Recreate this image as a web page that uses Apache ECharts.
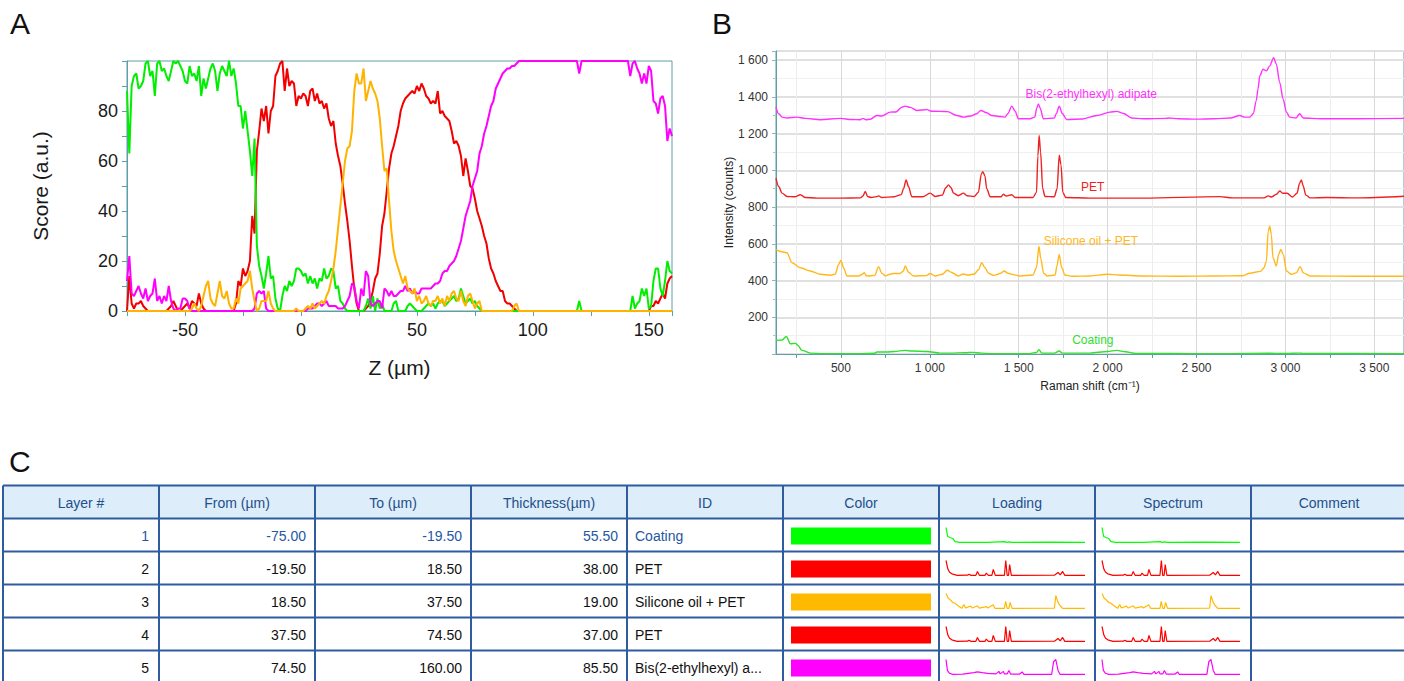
<!DOCTYPE html>
<html>
<head>
<meta charset="utf-8">
<script src="https://cdn.jsdelivr.net/npm/echarts@6.0.0/dist/echarts.min.js"></script>
<style>
html,body{margin:0;padding:0;background:#fff;}
#c{width:1404px;height:681px;}
</style>
</head>
<body>
<div id="c"></div>
<script>
// ---------------- DATA ----------------
// Panel A: depth profile, Z from -75 to 160 µm, step 1 µm
const zStart = -75, zStep = 1;
const scoreCoating = [
88,63,90,94,95,89,90,92,99,100,
94,96,86,99,100,96,97,94,92,96,
100,99,100,98,96,92,91,98,94,95,
92,98,86,93,89,93,97,99,96,88,
95,98,96,94,100,94,97,91,82,82,
73,80,72,64,54,69,26,18,14,9,
15,22,13,14,5,1,0,6,10,8,
12,10,12,17,17,16,14,15,11,14,
11,13,9,13,12,17,13,14,17,16,
9,10,4,3,1,0,0,0,0,0,
0,0,0,2,5,1,6,0,5,1,
3,0,0,0,0,3,4,0,0,0,
0,2,3,2,1,0,0,0,1,2,
3,2,3,1,3,4,4,2,3,4,
5,6,4,5,9,6,3,4,5,3,
4,2,1,0,0,0,0,0,0,0,
0,0,0,0,0,0,0,0,0,0,
0,0,0,0,0,0,0,0,0,0,
0,0,0,0,0,0,0,0,0,0,
0,0,0,0,0,4,0,0,0,0,
0,0,0,0,0,0,0,0,0,0,
0,0,0,0,0,0,0,0,6,1,
3,4,9,6,9,1,2,12,17,17,
9,6,12,20,16,15];
const scorePET = [
0,14,3,1,3,3,4,2,1,0,
0,0,0,0,0,0,0,0,1,2,
4,2,0,0,1,2,3,1,4,3,
2,7,3,1,0,0,0,0,0,0,
0,0,0,0,0,0,0,3,12,10,
17,14,16,20,38,31,64,72,81,76,
82,71,80,82,94,96,99,100,88,97,
90,92,91,82,86,85,87,86,82,88,
89,84,87,83,84,81,83,77,74,76,
67,62,58,51,43,36,28,18,9,3,
0,0,0,1,2,4,8,13,15,23,
34,39,48,57,63,66,70,74,80,83,
85,86,87,88,87,90,88,91,89,86,
85,83,84,83,88,79,80,78,77,76,
72,67,68,66,62,54,61,56,50,49,
45,40,37,34,30,27,21,17,15,12,
10,8,8,4,3,3,2,1,0,0,
0,0,0,0,0,0,0,0,0,0,
0,0,0,0,0,0,0,0,0,0,
0,0,0,0,0,0,0,0,0,0,
0,0,0,0,0,0,0,0,0,0,
0,0,0,0,0,0,0,0,0,0,
0,0,0,0,0,0,2,2,4,3,
5,7,5,11,13,14];
const scoreSilicone = [
0,0,0,0,0,0,0,0,0,0,
0,0,0,0,0,0,0,0,0,0,
0,0,0,0,0,0,0,0,1,3,
1,0,2,6,10,12,5,3,2,7,
12,6,5,8,3,1,1,5,3,9,
10,11,12,16,9,4,0,1,4,4,
4,8,3,1,0,0,0,0,0,0,
0,0,0,1,0,0,0,1,2,1,
3,1,2,3,4,3,6,8,12,17,
24,33,42,51,60,65,66,72,88,95,
91,91,97,84,88,92,89,87,84,77,
66,56,57,44,32,24,20,17,14,11,
14,9,8,7,9,4,6,3,4,6,
3,2,4,4,6,3,5,2,6,4,
7,8,5,4,8,4,2,6,7,4,
1,3,4,0,0,0,0,0,0,0,
0,0,0,0,0,0,0,2,3,0,
0,0,0,0,0,0,0,0,0,0,
0,0,0,0,0,0,0,0,0,0,
0,0,0,0,0,0,0,0,0,0,
0,0,0,0,0,0,0,0,0,0,
0,0,0,0,0,0,0,0,0,0,
0,0,0,0,0,0,0,0,0,0,
0,0,0,0,0,0];
const scoreBis = [
12,22,7,6,8,10,7,5,9,4,
6,7,13,4,6,3,6,4,10,4,
1,0,1,1,5,5,4,1,0,0,
0,0,0,0,0,0,0,0,0,0,
0,0,0,0,0,0,0,0,0,0,
0,0,0,0,0,1,7,8,7,8,
1,0,0,0,0,0,0,0,0,0,
0,0,0,0,0,0,0,0,1,1,
1,2,3,3,2,3,4,2,2,2,
2,1,1,1,2,4,6,11,10,4,
1,9,6,16,14,3,2,3,4,4,
1,9,8,6,8,6,6,7,8,8,
10,8,9,7,8,7,7,9,9,9,
9,9,10,11,11,12,15,16,16,18,
19,20,22,25,28,33,38,41,44,50,
53,56,63,66,71,74,78,82,84,89,
91,93,95,96,97,97,98,98,99,100,
100,100,100,100,100,100,100,100,100,100,
100,100,100,100,100,100,100,100,100,100,
100,100,100,100,100,95,100,100,100,100,
100,100,100,100,100,100,100,100,100,100,
100,100,100,100,100,100,100,94,99,100,
97,95,91,95,91,98,96,84,83,79,
85,86,82,68,73,70];

// Panel B: spectra [Raman shift cm-1, intensity counts]
const specBis = [[135,1344],[150,1308],[169,1290],[197,1285],[253,1290],[300,1283],[384,1276],[496,1283],[560,1277],[609,1276],[620,1282],[627,1282],[640,1276],[665,1278],[702,1299],[730,1296],[777,1317],[810,1318],[843,1344],[862,1350],[890,1343],[927,1326],[983,1331],[1010,1322],[1058,1321],[1100,1320],[1152,1299],[1189,1290],[1230,1296],[1264,1308],[1287,1326],[1320,1314],[1348,1299],[1400,1293],[1423,1290],[1440,1310],[1461,1350],[1480,1322],[1498,1281],[1564,1281],[1590,1290],[1602,1340],[1611,1362],[1620,1340],[1639,1281],[1700,1285],[1712,1310],[1728,1350],[1745,1310],[1770,1277],[1860,1280],[1940,1299],[2013,1317],[2051,1321],[2090,1310],[2135,1285],[2200,1281],[2330,1283],[2340,1285],[2400,1281],[2500,1279],[2600,1281],[2690,1285],[2743,1299],[2770,1290],[2800,1290],[2820,1310],[2836,1380],[2846,1443],[2856,1515],[2874,1551],[2893,1542],[2912,1569],[2934,1614],[2949,1578],[2968,1479],[2987,1389],[3006,1317],[3024,1290],[3060,1285],[3080,1308],[3100,1285],[3200,1281],[3400,1281],[3667,1283]];
const specPET = [[135,957],[150,912],[169,876],[197,858],[240,856],[272,867],[300,852],[365,849],[500,849],[610,850],[624,860],[637,885],[650,858],[670,852],[700,857],[712,861],[730,852],[800,856],[840,868],[852,900],[867,948],[880,912],[899,856],[960,856],[1002,876],[1030,858],[1070,865],[1090,905],[1105,921],[1120,905],[1133,876],[1160,862],[1189,876],[1210,862],[1250,858],[1273,880],[1290,980],[1298,993],[1310,970],[1320,900],[1340,856],[1400,856],[1414,870],[1430,860],[1461,867],[1480,852],[1580,852],[1600,880],[1608,1080],[1615,1190],[1623,1100],[1635,900],[1648,858],[1700,856],[1716,900],[1728,1083],[1738,1030],[1748,880],[1765,852],[1900,849],[2200,849],[2631,857],[2700,850],[2880,850],[2903,861],[2920,855],[2950,870],[2968,888],[2985,875],[3010,875],[3040,855],[3065,875],[3080,930],[3090,948],[3100,915],[3115,865],[3140,850],[3230,852],[3400,850],[3667,859]];
const specSilicone = [[135,569],[169,557],[197,551],[225,497],[272,470],[328,452],[384,434],[440,429],[468,434],[487,488],[500,510],[515,470],[534,425],[600,425],[620,434],[631,443],[645,425],[690,428],[712,476],[730,440],[750,425],[780,436],[796,438],[830,438],[850,450],[862,479],[880,445],[908,425],[980,427],[1002,438],[1030,425],[1070,434],[1099,456],[1120,445],[1161,425],[1189,436],[1215,430],[1250,436],[1275,460],[1292,497],[1310,470],[1330,440],[1360,428],[1400,440],[1418,452],[1440,440],[1470,432],[1508,425],[1580,430],[1600,470],[1614,587],[1624,520],[1640,440],[1660,425],[1705,430],[1715,480],[1728,542],[1742,470],[1760,430],[1800,423],[1900,425],[2000,434],[2060,430],[2200,425],[2400,423],[2600,425],[2760,426],[2800,440],[2860,450],[2880,470],[2893,506],[2903,668],[2912,696],[2921,650],[2930,524],[2949,479],[2962,542],[2974,569],[2988,542],[3006,452],[3034,434],[3060,442],[3084,476],[3100,442],[3140,425],[3400,423],[3667,423]];
const specCoating = [[135,74],[169,76],[193,95],[216,56],[244,58],[260,45],[281,20],[328,5],[400,2],[600,2],[690,4],[702,11],[760,11],[800,14],[862,20],[900,16],[983,14],[1058,5],[1110,5],[1200,7],[1240,9],[1290,5],[1348,2],[1550,2],[1600,8],[1614,23],[1630,5],[1700,5],[1728,16],[1745,5],[1900,5],[2000,14],[2051,20],[2100,12],[2160,3],[2500,2],[2700,2],[2900,4],[3000,3],[3080,5],[3100,3],[3667,2]];
const ramanTicks = [250,500,750,1000,1250,1500,1750,2000,2250,2500,2750,3000,3250,3500];
const ramanLabels = [500,1000,1500,2000,2500,3000,3500];

// Panel C: table
const headers = ['Layer #','From (µm)','To (µm)','Thickness(µm)','ID','Color','Loading','Spectrum','Comment'];
const layerNo = [1,2,3,4,5];
const fromUm = [-75.00,-19.50,18.50,37.50,74.50];
const toUm = [-19.50,18.50,37.50,74.50,160.00];
const thicknessUm = [55.50,38.00,19.00,37.00,85.50];
const layerIds = ['Coating','PET','Silicone oil + PET','PET','Bis(2-ethylhexyl) a...'];
const layerColors = ['#00ff00','#ff0000','#ffba00','#ff0000','#ff00ff'];
// thumbnails: [relative position 0..1, relative height 0..100]
const thumbCoating = [[0,100],[0.012,40],[0.03,33],[0.048,27],[0.065,6],[0.1,1],[0.3,1],[0.42,6],[0.435,1],[0.455,4],[0.47,1],[0.75,2],[1,1]];
const thumbPET = [[0,100],[0.013,44],[0.026,22],[0.042,11],[0.08,1],[0.155,2],[0.165,8],[0.18,1],[0.215,1],[0.226,27],[0.24,1],[0.28,1],[0.29,16],[0.305,1],[0.33,1],[0.34,40],[0.355,1],[0.42,1],[0.43,100],[0.44,1],[0.45,1],[0.458,73],[0.47,1],[0.78,2],[0.806,20],[0.822,4],[0.839,27],[0.855,1],[1,1]];
const thumbSilicone = [[0,100],[0.016,68],[0.032,57],[0.048,40],[0.064,36],[0.08,23],[0.097,11],[0.113,1],[0.129,27],[0.14,3],[0.177,16],[0.19,3],[0.226,18],[0.24,3],[0.29,12],[0.3,3],[0.339,25],[0.352,1],[0.42,1],[0.429,48],[0.44,1],[0.452,1],[0.461,41],[0.475,1],[0.78,3],[0.79,86],[0.806,41],[0.82,20],[0.839,1],[1,1]];
const thumbBis = [[0,100],[0.01,27],[0.025,8],[0.048,1],[0.12,2],[0.2,12],[0.226,17],[0.26,12],[0.3,8],[0.36,4],[0.38,21],[0.39,4],[0.413,21],[0.42,4],[0.44,4],[0.452,27],[0.465,3],[0.53,3],[0.548,17],[0.56,1],[0.76,1],[0.774,85],[0.79,100],[0.806,27],[0.82,1],[1,1]];
const rowThumbs = [thumbCoating, thumbPET, thumbSilicone, thumbPET, thumbBis];

// ---------------- STYLE / LAYOUT ----------------
const FONT = '"Liberation Sans", Arial, Helvetica, sans-serif';
const TEAL = '#5d9fa6';
const C_GREEN = '#00ee00', C_RED = '#f20000', C_ORANGE = '#ffb300', C_MAG = '#ff00ff';
const thousands = v => String(v).replace(/\B(?=(\d{3})+(?!\d))/g, ' ');
const zData = arr => arr.map((v, i) => [zStart + i * zStep, v]);

const T = { left: 3, top: 485.5, colW: 156, headH: 33, rowH: 33, border: '#2f5c9e', headBg: '#ddedf9', headTxt: '#234f8c', row1Txt: '#2457a3' };

const grids = [
  { left: 127, top: 61, width: 545, height: 250, show: true, borderColor: TEAL, borderWidth: 1, outerBoundsMode: 'none' },
  { left: 776, top: 51, width: 628, height: 303, show: true, borderColor: TEAL, borderWidth: 1, outerBoundsMode: 'none' }
];
const xAxes = [
  { gridIndex: 0, type: 'value', min: -75, max: 160, interval: 25,
    axisLine: { show: true, onZero: false, lineStyle: { color: TEAL, width: 1 } },
    axisTick: { show: true, length: 5, lineStyle: { color: TEAL } },
    axisLabel: { formatter: v => (v % 50 === 0 ? String(v) : ''), fontSize: 18, color: '#1a1a1a', fontFamily: FONT, margin: 10 },
    splitLine: { show: false },
    name: 'Z (µm)', nameLocation: 'middle', nameGap: 46, nameMoveOverlap: false,
    nameTextStyle: { fontSize: 21, color: '#1a1a1a', fontFamily: FONT } },
  { gridIndex: 1, type: 'value', min: 135, max: 3667,
    axisLine: { show: true, onZero: false, lineStyle: { color: TEAL, width: 1 } },
    axisTick: { show: true, length: 4, lineStyle: { color: TEAL }, customValues: ramanTicks },
    axisLabel: { customValues: ramanLabels, formatter: v => thousands(v), fontSize: 12, color: '#333', fontFamily: FONT, margin: 8 },
    splitLine: { show: true, lineStyle: { color: ['#ececec', '#d9d9d9'], width: 1 } },
    name: 'Raman shift (cm⁻¹)', nameLocation: 'middle', nameGap: 26, nameMoveOverlap: false,
    nameTextStyle: { fontSize: 12, color: '#222', fontFamily: FONT } }
];
const yAxes = [
  { gridIndex: 0, type: 'value', min: 0, max: 100, interval: 10,
    axisLine: { show: true, onZero: false, lineStyle: { color: TEAL, width: 1 } },
    axisTick: { show: true, length: 5, lineStyle: { color: TEAL } },
    axisLabel: { formatter: v => (v % 20 === 0 && v < 100 ? String(v) : ''), fontSize: 18, color: '#1a1a1a', fontFamily: FONT, margin: 9 },
    splitLine: { show: false },
    name: 'Score (a.u.)', nameLocation: 'middle', nameGap: 76, nameRotate: 90, nameMoveOverlap: false,
    nameTextStyle: { fontSize: 21, color: '#1a1a1a', fontFamily: FONT } },
  { gridIndex: 1, type: 'value', min: 0, max: 1650, interval: 200,
    axisLine: { show: true, onZero: false, lineStyle: { color: TEAL, width: 1 } },
    axisTick: { show: true, length: 4, lineStyle: { color: '#8fb5b9' } },
    minorTick: { show: true, splitNumber: 2, length: 3, lineStyle: { color: '#a9c6c9' } },
    axisLabel: { formatter: v => thousands(v), showMinLabel: false, showMaxLabel: false, fontSize: 12, color: '#333', fontFamily: FONT, margin: 8 },
    splitLine: { show: true, lineStyle: { color: '#e0e0e0', width: 2 } },
    minorSplitLine: { show: true, lineStyle: { color: '#f0f0f0', width: 1 } },
    name: 'Intensity (counts)', nameLocation: 'middle', nameGap: 41, nameRotate: 90, nameMoveOverlap: false,
    nameTextStyle: { fontSize: 12, color: '#222', fontFamily: FONT } }
];

const series = [];
// Panel A
[[scorePET, C_RED], [scoreCoating, C_GREEN], [scoreBis, C_MAG], [scoreSilicone, C_ORANGE]].forEach(([arr, col]) => {
  series.push({ type: 'line', xAxisIndex: 0, yAxisIndex: 0, data: zData(arr), showSymbol: false, symbol: 'none',
    lineStyle: { color: col, width: 2 }, itemStyle: { color: col }, silent: true });
});
// Panel B
function specSeries(data, col, text, coord) {
  return { type: 'line', xAxisIndex: 1, yAxisIndex: 1, data: data, showSymbol: false, symbol: 'none', smooth: 0.3, smoothMonotone: 'x',
    lineStyle: { color: col, width: 1.4 }, itemStyle: { color: col }, silent: true,
    markPoint: { silent: true, symbol: 'circle', symbolSize: 1, itemStyle: { color: 'rgba(0,0,0,0)' },
      label: { show: true, position: 'right', distance: 0, formatter: text, color: col, fontSize: 12, fontFamily: FONT },
      data: [{ coord: coord }] } };
}
series.push(specSeries(specBis, '#ff33ff', 'Bis(2-ethylhexyl) adipate', [1536, 1416]));
series.push(specSeries(specPET, '#ee2222', 'PET', [1848, 912]));
series.push(specSeries(specSilicone, '#ffb81c', 'Silicone oil + PET', [1638, 615]));
series.push(specSeries(specCoating, '#2fe02f', 'Coating', [1798, 74]));

// Panel C thumbnails
const thumbCols = [{ left: 946, width: 139 }, { left: 1102, width: 138 }];
layerNo.forEach((n, i) => {
  const rowTop = T.top + T.headH + i * T.rowH;
  thumbCols.forEach(tc => {
    const gi = grids.length;
    grids.push({ left: tc.left, top: rowTop + 9, width: tc.width, height: 15, show: false, outerBoundsMode: 'none' });
    xAxes.push({ gridIndex: gi, type: 'value', min: 0, max: 1, show: false });
    yAxes.push({ gridIndex: gi, type: 'value', min: 0, max: 100, show: false });
    series.push({ type: 'line', xAxisIndex: gi, yAxisIndex: gi, data: rowThumbs[i], showSymbol: false, symbol: 'none', clip: false,
      lineStyle: { color: layerColors[i], width: 1.2 }, silent: true });
  });
});

// Graphic: panel letters + table
const g = [];
const txt = (x, y, text, opt) => g.push({ type: 'text', x: x, y: y, silent: true,
  style: Object.assign({ text: text, fontFamily: FONT, fontSize: 14, fill: '#111', align: 'left', verticalAlign: 'middle' }, opt || {}) });
txt(10, 23, 'A', { fontSize: 30, verticalAlign: 'middle' });
txt(712, 23, 'B', { fontSize: 30, verticalAlign: 'middle' });
txt(9, 461, 'C', { fontSize: 30, verticalAlign: 'middle' });

const nCols = headers.length;
const tableRight = 1404;
g.push({ type: 'rect', silent: true, shape: { x: T.left, y: T.top, width: tableRight - T.left, height: T.headH }, style: { fill: T.headBg } });
headers.forEach((h, k) => txt(T.left + T.colW * (k + 0.5), T.top + T.headH / 2 + 0.5, h, { align: 'center', fill: T.headTxt }));
layerNo.forEach((n, i) => {
  const top = T.top + T.headH + i * T.rowH;
  const cy = top + T.rowH / 2 + 0.5;
  const fill = i === 0 ? T.row1Txt : '#111';
  txt(T.left + T.colW * 1 - 10, cy, String(n), { align: 'right', fill: fill });
  txt(T.left + T.colW * 2 - 9, cy, fromUm[i].toFixed(2), { align: 'right', fill: fill });
  txt(T.left + T.colW * 3 - 9, cy, toUm[i].toFixed(2), { align: 'right', fill: fill });
  txt(T.left + T.colW * 4 - 9, cy, thicknessUm[i].toFixed(2), { align: 'right', fill: fill });
  txt(T.left + T.colW * 4 + 8, cy, layerIds[i], { align: 'left', fill: fill });
  g.push({ type: 'rect', silent: true, shape: { x: T.left + T.colW * 5 + 8, y: top + 9, width: 140, height: 17 }, style: { fill: layerColors[i] } });
});
for (let r = 0; r <= layerNo.length + 1; r++) {
  const y = r === 0 ? T.top : T.top + T.headH + (r - 1) * T.rowH;
  g.push({ type: 'line', silent: true, shape: { x1: T.left, y1: y, x2: tableRight, y2: y }, style: { stroke: T.border, lineWidth: 2 } });
}
for (let k = 0; k <= nCols; k++) {
  const x = T.left + k * T.colW;
  g.push({ type: 'line', silent: true, shape: { x1: x, y1: T.top, x2: x, y2: 690 }, style: { stroke: T.border, lineWidth: 2 } });
}

const chart = echarts.init(document.getElementById('c'), null, { renderer: 'svg', width: 1404, height: 681 });
chart.setOption({
  animation: false,
  backgroundColor: '#fff',
  grid: grids,
  xAxis: xAxes,
  yAxis: yAxes,
  series: series,
  graphic: { elements: g }
});
</script>
</body>
</html>
